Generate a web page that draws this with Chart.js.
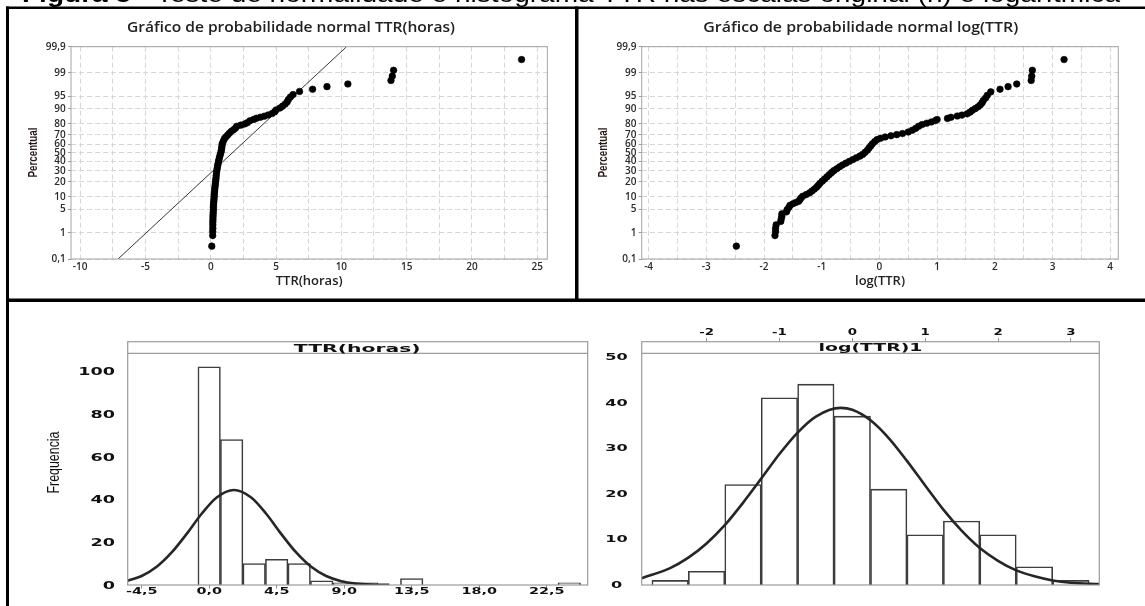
<!DOCTYPE html>
<html lang="pt">
<head>
<meta charset="utf-8">
<title>Teste de normalidade e histograma TTR</title>
<script src="https://cdn.jsdelivr.net/npm/chart.js@4.4.1/dist/chart.umd.min.js"></script>
<style>
  html, body { margin: 0; padding: 0; background: #fff; }
  body { position: relative; width: 1145px; height: 606px; overflow: hidden; }
  canvas { position: absolute; }
</style>
</head>
<body>
<canvas id="frame" width="1145" height="606" style="left:0;top:0"></canvas>
<canvas id="probTtr" width="566" height="290" style="left:9px;top:9px"></canvas>
<canvas id="probLog" width="564" height="290" style="left:579px;top:9px"></canvas>
<canvas id="histTtr" width="586" height="304" style="left:9px;top:302px"></canvas>
<canvas id="histLog" width="550" height="304" style="left:595px;top:302px"></canvas>
<script>
// normal probability plot of TTR (hours): [TTR, percent]
const ttrProbPoints = [
  [0.08,0.33],
  [0.15,0.8],[0.15,1.1],[0.16,1.4],[0.16,1.8],[0.16,2.2],[0.17,2.6],[0.17,3.1],[0.18,3.6],[0.19,4.2],[0.2,4.9],
  [0.2,5.6],[0.21,6.4],[0.22,7.2],[0.24,8.1],[0.25,9.1],[0.26,10.2],[0.27,11.4],[0.29,12.7],[0.3,14.1],[0.32,15.6],
  [0.34,17.2],[0.36,19],[0.38,21],[0.4,23],[0.42,25.5],[0.44,28],[0.47,30.5],[0.5,33],[0.53,35.5],[0.57,38],
  [0.6,40.5],[0.64,43],[0.68,45.5],[0.73,48],[0.78,50.5],[0.81,53],[0.84,55.5],[0.86,58],[0.88,60.5],[0.95,63],
  [1.03,65.5],[1.13,67.5],[1.28,69.5],[1.42,71.5],[1.58,73.5],[1.75,75],[1.9,76.5],[2.0,78],[2.3,79],[2.6,80],
  [2.8,81],[3.0,82.5],[3.3,83.5],[3.5,84.3],[3.8,85],[4.1,85.7],[4.4,86.5],[4.7,87.4],[4.9,88.4],[5.0,89.4],
  [5.3,90.4],[5.5,91.3],[5.7,92.2],[5.85,93.1],[5.95,94],[6.1,94.8],[6.3,95.5],[6.8,96.3],[7.8,96.8],[8.9,97.3],
  [10.5,97.75],[13.8,98.24],[13.9,98.72],[14.0,99.19],[23.8,99.67]
];
const ttrFitLine = [[-7.1,0.1],[10.4,99.9]];

// normal probability plot of log(TTR): [log(TTR), percent]
const logProbPoints = [
  [-2.48,0.33],
  [-1.81,0.8],[-1.8,1.1],[-1.8,1.4],[-1.79,1.8],[-1.71,2.3],[-1.7,2.8],[-1.69,3.3],[-1.69,3.8],[-1.61,4.3],[-1.6,4.9],
  [-1.57,5.6],[-1.55,6.3],[-1.5,6.9],[-1.45,7.4],[-1.4,7.9],[-1.38,8.6],[-1.36,9.4],[-1.33,10.3],[-1.27,11.2],[-1.21,12.2],
  [-1.17,13.3],[-1.13,14.5],[-1.09,15.8],[-1.06,17.2],[-1.03,18.8],[-0.99,20.5],[-0.95,22.3],[-0.91,24.2],[-0.87,26.2],[-0.83,28.2],
  [-0.79,30.2],[-0.74,32.2],[-0.69,34.2],[-0.64,36.2],[-0.58,38.2],[-0.52,40.2],[-0.46,42.2],[-0.4,44.2],[-0.34,46.2],[-0.29,48.2],
  [-0.25,50.5],[-0.21,53],[-0.18,55.5],[-0.15,58],[-0.12,60.5],[-0.08,63],[-0.04,65],[0.02,66.5],[0.1,67.8],[0.2,69],
  [0.3,70.2],[0.4,71.3],[0.5,72.8],[0.57,74.5],[0.63,76.2],[0.68,78],[0.74,79.5],[0.82,80.6],[0.9,81.6],[0.97,82.6],
  [1.0,83.4],[1.18,84.2],[1.24,85],[1.35,85.8],[1.43,86.4],[1.52,87.2],[1.57,88.2],[1.61,89.2],[1.66,90.1],[1.71,91],
  [1.75,91.9],[1.78,92.8],[1.8,93.6],[1.84,94.5],[1.87,95.3],[1.93,96.2],[2.09,96.8],[2.23,97.3],[2.38,97.75],[2.63,98.24],
  [2.64,98.72],[2.65,99.19],[3.2,99.67]
];

const probTickPct = [0.1, 1, 5, 10, 20, 30, 40, 50, 60, 70, 80, 90, 95, 99, 99.9];
const probTickLabels = ['0,1','1','5','10','20','30','40','50','60','70','80','90','95','99','99,9'];
const ttrProbTicks = [-10, -5, 0, 5, 10, 15, 20, 25];
const logProbTicks = [-4, -3, -2, -1, 0, 1, 2, 3, 4];

// histogram of TTR (hours)
const ttrBinMids = [0, 1.5, 3, 4.5, 6, 7.5, 9, 10.5, 13.5, 24];
const ttrBinCounts = [102, 68, 10, 12, 10, 2, 1, 1, 3, 1];
const ttrCurveX = [-5.43, -4.5, -3.5, -2.5, -1.5, -0.5, 0.5, 1.65, 2.8, 3.8, 4.8, 5.8, 6.8, 7.8, 8.8, 9.8, 10.8, 12.0];
const ttrCurveY = [2.0, 4.2, 8.5, 15.2, 23.9, 33.3, 40.9, 44.4, 40.9, 33.3, 23.9, 15.2, 8.5, 4.2, 1.8, 0.7, 0.24, 0.06];
const histTtrTicks = [-4.5, 0, 4.5, 9, 13.5, 18, 22.5];
const histTtrTickLabels = ['-4,5', '0,0', '4,5', '9,0', '13,5', '18,0', '22,5'];
const freqTtrTicks = [0, 20, 40, 60, 80, 100];

// histogram of log(TTR)
const logBinMids = [-2.5, -2, -1.5, -1, -0.5, 0, 0.5, 1, 1.5, 2, 2.5, 3];
const logBinCounts = [1, 3, 22, 41, 44, 37, 21, 11, 14, 11, 4, 1];
const logCurveX = [-2.89, -2.5, -2.25, -2, -1.75, -1.5, -1.25, -1, -0.75, -0.5, -0.16, 0, 0.25, 0.5, 0.75, 1, 1.25, 1.5, 1.75, 2, 2.25, 2.5, 2.75, 3, 3.39];
const logCurveY = [1.5, 3.7, 6.0, 9.1, 13.1, 18.0, 23.3, 28.7, 33.4, 36.9, 38.8, 38.4, 36.1, 32.2, 27.2, 21.8, 16.5, 11.9, 8.1, 5.3, 3.2, 1.9, 1.0, 0.5, 0.2];
const histLogTicks = [-2, -1, 0, 1, 2, 3];
const freqLogTicks = [0, 10, 20, 30, 40, 50];

// inverse normal CDF (Acklam), percent -> z, for the probability axis
function probit(pct) {
  const p = pct / 100;
  const a = [-3.969683028665376e+01, 2.209460984245205e+02, -2.759285104469687e+02, 1.383577518672690e+02, -3.066479806614716e+01, 2.506628277459239e+00];
  const b = [-5.447609879822406e+01, 1.615858368580409e+02, -1.556989798598866e+02, 6.680131188771972e+01, -1.328068155288572e+01];
  const c = [-7.784894002430293e-03, -3.223964580411365e-01, -2.400758277161838e+00, -2.549671348283508e+00, 4.374664141464968e+00, 2.938163982698783e+00];
  const d = [7.784695709041462e-03, 3.224671290700398e-01, 2.445134137142996e+00, 3.754408661907416e+00];
  const tail = q => (((((c[0]*q+c[1])*q+c[2])*q+c[3])*q+c[4])*q+c[5]) / ((((d[0]*q+d[1])*q+d[2])*q+d[3])*q+1);
  if (p < 0.02425) return tail(Math.sqrt(-2 * Math.log(p)));
  if (p > 1 - 0.02425) return -tail(Math.sqrt(-2 * Math.log(1 - p)));
  const q = p - 0.5, r = q * q;
  return (((((a[0]*r+a[1])*r+a[2])*r+a[3])*r+a[4])*r+a[5])*q / (((((b[0]*r+b[1])*r+b[2])*r+b[3])*r+b[4])*r+1);
}
const toProb = pts => pts.map(([x, p]) => ({ x, y: probit(p) }));
const toXY = (xs, ys) => xs.map((x, i) => ({ x, y: ys[i] }));

function drawText(ctx, t) {
  ctx.save();
  ctx.font = t.font;
  ctx.fillStyle = t.color || '#1a1a1a';
  ctx.textAlign = t.align || 'center';
  ctx.textBaseline = t.baseline || 'alphabetic';
  ctx.translate(t.x, t.y);
  if (t.rotate) ctx.rotate(t.rotate);
  let sx = t.sx || 1;
  if (t.width) sx = t.width / ctx.measureText(t.text).width;
  ctx.scale(sx, t.sy || 1);
  ctx.fillText(t.text, 0, 0);
  ctx.restore();
}

// frame round the plot area, optional header strip, free texts and stretched tick labels
const panelPlugin = {
  id: 'panel',
  afterDraw(chart, args, opts) {
    const { ctx, chartArea: a } = chart;
    ctx.save();
    ctx.strokeStyle = opts.frameColor;
    ctx.lineWidth = opts.frameWidth || 1;
    ctx.strokeRect(a.left, a.top, a.right - a.left, a.bottom - a.top);
    if (opts.stripHeight) {
      ctx.beginPath();
      ctx.moveTo(a.left, a.top + opts.stripHeight);
      ctx.lineTo(a.right, a.top + opts.stripHeight);
      ctx.stroke();
    }
    ctx.restore();
    (opts.texts || []).forEach(t => drawText(ctx, t));
    (opts.tickText || []).forEach(tt => {
      const scale = chart.scales[tt.axis];
      scale.ticks.forEach((tick, i) => {
        const p = scale.getPixelForValue(tick.value);
        const pos = scale.isHorizontal() ? { x: p, y: tt.y } : { x: tt.x, y: p + tt.dy };
        drawText(ctx, Object.assign({}, tt.style, pos, { text: tt.labels[i] }));
      });
    });
  }
};

// page frame and caption
const fc = document.getElementById('frame').getContext('2d');
fc.fillStyle = '#fff';
fc.fillRect(0, 0, 1145, 606);
const capFamily = '"Liberation Sans", Arial, sans-serif';
const capBold = 'Figura 5';
const capRest = ' - Teste de normalidade e histograma TTR nas escalas original (h) e logarítmica';
fc.font = 'bold 24px ' + capFamily;
const wBold = fc.measureText(capBold).width;
fc.font = '24px ' + capFamily;
const wRest = fc.measureText(capRest).width;
fc.save();
fc.translate(22, 1.5);
fc.scale((1120 - 22) / (wBold + wRest), 1);
fc.fillStyle = '#000';
fc.font = 'bold 24px ' + capFamily;
fc.fillText(capBold, 0, 0);
fc.font = '24px ' + capFamily;
fc.fillText(capRest, wBold, 0);
fc.restore();
fc.fillStyle = '#000';
fc.fillRect(6, 6.5, 1139, 2.5);
fc.fillRect(6, 6.5, 3, 600);
fc.fillRect(6, 298.5, 1139, 3.5);
fc.fillRect(575, 6.5, 3.5, 295);

Chart.defaults.font.family = '"Open Sans", sans-serif';
Chart.defaults.color = '#2a2a2a';

const tickFont = { family: '"Open Sans", sans-serif', size: 10, weight: '600' };
const titleFont = { family: '"Open Sans", sans-serif', size: 13, weight: '600' };

function probChart(id, pts, line, xr, xTickLabels, xStep, xTitle, title, titleX, titleW, yWidth, rightPad) {
  const datasets = [{
    data: toProb(pts), backgroundColor: '#000', borderColor: '#000',
    pointRadius: 3.3, borderWidth: 0.6
  }];
  if (line) {
    datasets.push({
      type: 'line', data: toProb(line), borderColor: '#222', borderWidth: 0.9,
      pointRadius: 0, showLine: true, fill: false
    });
  }
  return new Chart(document.getElementById(id), {
    type: 'scatter',
    data: { datasets },
    plugins: [panelPlugin],
    options: {
      responsive: false, animation: false, events: [], devicePixelRatio: 1,
      layout: { padding: { top: 37.7, right: rightPad, left: 0, bottom: 0 } },
      scales: {
        x: {
          type: 'linear', min: xr[0], max: xr[1],
          afterBuildTicks: s => {
            s.ticks = [];
            for (let v = xTickLabels[0]; v <= xTickLabels[xTickLabels.length - 1] + 1e-9; v += xStep) s.ticks.push({ value: v });
          },
          afterFit: s => { s.height = 40; },
          ticks: {
            autoSkip: false, maxRotation: 0, padding: 1.7, font: tickFont, color: '#2a2a2a',
            callback: v => xTickLabels.includes(v) ? String(v) : ''
          },
          grid: { color: '#d6d6d6', lineWidth: 1, drawTicks: false },
          border: { display: false, dash: [5, 3] },
          title: { display: true, text: xTitle, font: titleFont, color: '#222', padding: { top: 0, bottom: 9.5 } }
        },
        y: {
          type: 'linear', min: probit(0.1), max: probit(99.9),
          afterBuildTicks: s => { s.ticks = probTickPct.map(p => ({ value: probit(p) })); },
          afterFit: s => { s.width = yWidth; },
          ticks: {
            autoSkip: false, padding: 2.3, font: tickFont, color: '#2a2a2a',
            callback: (v, i) => probTickLabels[i]
          },
          grid: { color: '#d6d6d6', lineWidth: 1, drawTicks: true, tickLength: 3, tickColor: '#9a9a9a', tickBorderDash: [] },
          border: { display: false, dash: [5, 3] }
        }
      },
      plugins: {
        legend: { display: false },
        tooltip: { enabled: false },
        panel: {
          frameColor: '#a3a3a3',
          texts: [
            { text: title, x: titleX, y: 22.7, font: '600 13.5px "Open Sans", sans-serif', width: titleW, color: '#222' },
            { text: 'Percentual', x: 24.3, y: 143.5, rotate: -Math.PI / 2, baseline: 'middle',
              font: 'bold 11px "Liberation Sans", Arial, sans-serif', width: 50, sy: 1.15, color: '#261818' }
          ]
        }
      }
    }
  });
}

probChart('probTtr', ttrProbPoints, ttrFitLine, [-10.7, 25.77], ttrProbTicks, 2.5,
  'TTR(horas)', 'Gráfico de probabilidade normal TTR(horas)', 282, 328, 62, 27.7);
probChart('probLog', logProbPoints, null, [-4.12, 4.14], logProbTicks, 0.5,
  'log(TTR)', 'Gráfico de probabilidade normal log(TTR)', 281.8, 315, 62.7, 24.7);

const histFont = '"DejaVu Sans", Verdana, sans-serif';

function histChart(cfg) {
  return new Chart(document.getElementById(cfg.id), {
    type: 'bar',
    data: {
      datasets: [
        {
          type: 'line', data: toXY(cfg.curveX, cfg.curveY), borderColor: '#262626', borderWidth: 2.6,
          pointRadius: 0, cubicInterpolationMode: 'monotone', fill: false, order: 0
        },
        {
          type: 'bar', data: toXY(cfg.mids, cfg.counts), backgroundColor: '#fff', borderColor: '#3d3d3d',
          borderWidth: 1.6, barPercentage: 1, categoryPercentage: 1, order: 1
        }
      ]
    },
    plugins: [panelPlugin],
    options: {
      responsive: false, animation: false, events: [], devicePixelRatio: 1,
      layout: { padding: cfg.padding },
      scales: {
        x: {
          type: 'linear', position: cfg.xPos, min: cfg.xr[0], max: cfg.xr[1], offset: false,
          afterBuildTicks: s => { s.ticks = cfg.xTicks.map(v => ({ value: v })); },
          afterFit: s => { s.height = cfg.xHeight; },
          ticks: { display: false },
          grid: { display: true, offset: false, drawOnChartArea: false, drawTicks: true, tickLength: 3.5, color: '#8a8a8a', tickColor: '#8a8a8a' },
          border: { display: false }
        },
        y: {
          type: 'linear', min: 0, max: cfg.yMax,
          afterBuildTicks: s => { s.ticks = cfg.yTicks.map(v => ({ value: v })); },
          afterFit: s => { s.width = cfg.yWidth; },
          ticks: { display: false },
          grid: { display: false },
          border: { display: false }
        }
      },
      plugins: {
        legend: { display: false },
        tooltip: { enabled: false },
        panel: {
          frameColor: '#9c9c9c', frameWidth: 1.2, stripHeight: 11.6,
          texts: cfg.texts,
          tickText: cfg.tickText
        }
      }
    }
  });
}

histChart({
  id: 'histTtr', mids: ttrBinMids, counts: ttrBinCounts, curveX: ttrCurveX, curveY: ttrCurveY,
  xr: [-5.43, 25.23], xPos: 'bottom', xTicks: histTtrTicks, xHeight: 21,
  yMax: 113.7, yTicks: freqTtrTicks, yWidth: 118.7,
  padding: { top: 39.7, right: 7.3, left: 0, bottom: 0 },
  texts: [
    { text: 'TTR(horas)', x: 348.2, y: 49.8, font: 'bold 10px ' + histFont, width: 126.7, color: '#111' },
    { text: 'Frequencia', x: 46, y: 160.5, rotate: -Math.PI / 2, baseline: 'middle',
      font: '15px "Liberation Sans", Arial, sans-serif', width: 62, sy: 1.05, color: '#111' }
  ],
  tickText: [
    { axis: 'y', labels: freqTtrTicks.map(String), x: 106, dy: 4,
      style: { font: 'bold 11px ' + histFont, sx: 1.6, align: 'right', color: '#111' } },
    { axis: 'x', labels: histTtrTickLabels, y: 292,
      style: { font: 'bold 9px ' + histFont, sx: 1.6, align: 'center', color: '#111' } }
  ]
});

histChart({
  id: 'histLog', mids: logBinMids, counts: logBinCounts, curveX: logCurveX, curveY: logCurveY,
  xr: [-2.89, 3.39], xPos: 'top', xTicks: histLogTicks, xHeight: 39.7,
  yMax: 53.3, yTicks: freqLogTicks, yWidth: 46.7,
  padding: { top: 0, right: 45.7, left: 0, bottom: 21 },
  texts: [
    { text: 'log(TTR)1', x: 275.5, y: 48.5, font: 'bold 10px ' + histFont, width: 104, color: '#111' }
  ],
  tickText: [
    { axis: 'y', labels: freqLogTicks.map(String), x: 21.5, dy: 3.1,
      style: { font: 'bold 8.5px ' + histFont, sx: 1.9, align: 'center', color: '#111' } },
    { axis: 'x', labels: histLogTicks.map(String), y: 33,
      style: { font: 'bold 9.2px ' + histFont, sx: 1.45, align: 'center', color: '#111' } }
  ]
});
</script>
</body>
</html>
